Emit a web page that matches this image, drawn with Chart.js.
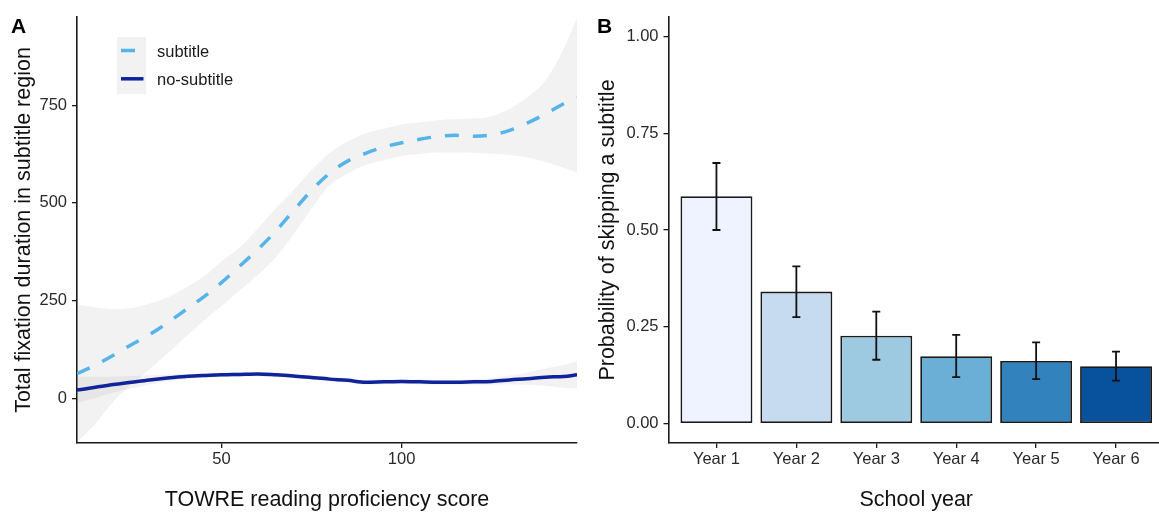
<!DOCTYPE html>
<html>
<head>
<meta charset="utf-8">
<script src="https://cdn.jsdelivr.net/npm/chart.js@4.4.1/dist/chart.umd.min.js"></script>
<style>
    html, body { margin: 0; padding: 0; background: #fff; overflow: hidden; }
    body { width: 1159px; height: 513px; position: relative; font-family: 'Liberation Sans', Arial, Helvetica, sans-serif; }
    #caixa-a { position: absolute; left: 0; top: 0; width: 590px; height: 513px; }
    #caixa-b { position: absolute; left: 590px; top: 0; width: 574px; height: 513px; }
    .painel { position: absolute; top: 15px; font-size: 21px; line-height: 21px; font-weight: bold; color: #000; }
</style>
</head>
<body>
<div id="caixa-a"><canvas id="grafico-a" width="590" height="513"></canvas></div>
<div id="caixa-b"><canvas id="grafico-b" width="574" height="513"></canvas></div>
<div class="painel" style="left:11px">A</div>
<div class="painel" style="left:597px">B</div>
<script>
const towreScore = [9.9, 15, 20, 25, 30, 35, 40, 45, 50, 55, 60, 65, 70, 75, 80, 85, 90, 95, 100, 105, 110, 115, 120, 125, 130, 135, 140, 145, 148.7]
const subtitleMean = [63, 85, 110, 137, 163, 193, 226, 259, 296, 338, 380, 427, 480, 532, 576, 607, 627, 643, 654, 663, 670, 673, 671, 674, 686, 705, 728, 754, 769]
const subtitleUpper = [240, 233, 228, 231, 242, 258, 283, 311, 350, 385, 434, 485, 533, 584, 627, 657, 678, 690, 701, 706, 712, 715, 716, 722, 741, 771, 815, 895, 975]
const subtitleLower = [-112, -65, -8, 35, 74, 115, 157, 198, 236, 275, 315, 360, 420, 485, 545, 575, 597, 609, 620, 625, 629, 629, 628, 626, 623, 617, 605, 590, 578]
const noSubtitleMean = [21, 28, 35, 41, 47, 52, 56, 58, 60, 61, 62, 60, 57, 53, 49, 46, 41, 42, 43, 42, 41, 41, 42, 43, 47, 50, 54, 56, 60]
const noSubtitleUpper = [55, 55, 56, 57, 59, 61, 63, 64, 66, 67, 68, 66, 63, 59, 55, 52, 47, 48, 49, 48, 47, 47, 49, 51, 58, 66, 76, 85, 95]
const noSubtitleLower = [-12, 1, 14, 25, 35, 43, 49, 52, 54, 55, 56, 54, 51, 47, 43, 40, 35, 36, 37, 36, 35, 35, 35, 35, 36, 34, 32, 27, 25]
const ticksXA = [50, 100]
const ticksYA = [0, 250, 500, 750]

// PAINEL B - probabilidade de pular a legenda
const schoolYears = ['Year 1', 'Year 2', 'Year 3', 'Year 4', 'Year 5', 'Year 6']
const skipProb = [0.587, 0.341, 0.227, 0.174, 0.162, 0.148]
const skipLow = [0.500, 0.275, 0.165, 0.120, 0.115, 0.111]
const skipHigh = [0.673, 0.406, 0.289, 0.229, 0.210, 0.186]
const ticksYB = [0, 0.25, 0.5, 0.75, 1]

const fonte = "'Liberation Sans', Arial, Helvetica, sans-serif"
const corSub = '#56B4E9'
const corNoSub = '#0F239B'
const corFaixa = 'rgba(150,150,150,0.12)'
const corEixo = '#1a1a1a'
const barColors = ['#EFF3FF', '#C6DBEF', '#9ECAE1', '#6BAED6', '#3182BD', '#08519C']
const capWidth = 0.1 // largura da barra de erro em unidades do eixo x

Chart.defaults.font.family = fonte
Chart.defaults.color = '#2a2a2a'
Chart.defaults.animation = false

function pontos(ys) {
    return towreScore.map((x, i) => ({ x: x, y: ys[i] }))
}

function linha(label, ys, cor, dash) {
    return {
        label: label,
        data: pontos(ys),
        borderColor: cor,
        borderWidth: 3.5,
        borderDash: dash,
        pointRadius: 0,
        fill: false,
        cubicInterpolationMode: 'monotone'
    }
}

function faixa(label, ys, preenche) {
    return {
        label: label,
        data: pontos(ys),
        borderColor: 'transparent',
        borderWidth: 0,
        pointRadius: 0,
        fill: preenche ? '-1' : false,
        backgroundColor: corFaixa,
        cubicInterpolationMode: 'monotone'
    }
}

function eixoGrid() {
    return { drawOnChartArea: false, drawTicks: true, tickLength: 5, color: corEixo, lineWidth: 1.3, offset: false }
}

// legenda desenhada dentro da area do grafico (estilo ggplot)
const legendaA = {
    id: 'legendaA',
    afterDatasetsDraw(chart) {
        const ctx = chart.ctx
        const x0 = chart.chartArea.left + 40
        const y0 = chart.chartArea.top + 20
        ctx.save()
        ctx.fillStyle = corFaixa
        ctx.fillRect(x0, y0, 29, 57)
        chart.data.datasets.slice(0, 2).forEach(function(ds, i) {
            const y = y0 + 13.5 + i * 28.3
            ctx.strokeStyle = ds.borderColor
            ctx.lineWidth = ds.borderWidth
            ctx.setLineDash(ds.borderDash || [])
            ctx.beginPath()
            ctx.moveTo(x0 + 4, y)
            ctx.lineTo(x0 + 26.5, y)
            ctx.stroke()
            ctx.setLineDash([])
            ctx.fillStyle = '#1a1a1a'
            ctx.font = '16.5px ' + fonte
            ctx.textBaseline = 'middle'
            ctx.fillText(ds.label, x0 + 40, y + 1.5)
        })
        ctx.restore()
    }
}

// GRAFICO A
var graficoA = new Chart(document.getElementById('grafico-a').getContext('2d'), {
    type: 'line',
    data: {
        datasets: [
            linha('subtitle', subtitleMean, corSub, [14, 14]),
            linha('no-subtitle', noSubtitleMean, corNoSub, []),
            faixa('subtitle-sup', subtitleUpper, false),
            faixa('subtitle-inf', subtitleLower, true),
            faixa('no-subtitle-sup', noSubtitleUpper, false),
            faixa('no-subtitle-inf', noSubtitleLower, true)
        ]
    },
    options: {
        responsive: false,
        layout: { padding: { top: 17, right: 13, left: 0, bottom: 0 } },
        scales: {
            x: {
                type: 'linear',
                min: 9.9,
                max: 148.7,
                afterBuildTicks: function(s) { s.ticks = ticksXA.map(v => ({ value: v })) },
                afterFit: function(s) { s.height = 70 },
                grid: eixoGrid(),
                border: { display: true, color: corEixo, width: 1.6 },
                ticks: { font: { size: 16.5 }, padding: 2, maxRotation: 0 },
                title: { display: true, text: 'TOWRE reading proficiency score', color: '#111', font: { size: 21.5 }, padding: { top: 0, bottom: 0 } }
            },
            y: {
                type: 'linear',
                min: -114.5,
                max: 976,
                afterBuildTicks: function(s) { s.ticks = ticksYA.map(v => ({ value: v })) },
                afterFit: function(s) { s.width = 77 },
                grid: eixoGrid(),
                border: { display: true, color: corEixo, width: 1.6 },
                ticks: { font: { size: 16.5 }, padding: 5 },
                title: { display: true, text: 'Total fixation duration in subtitle region', color: '#111', font: { size: 21.5 }, padding: { top: 11, bottom: 0 } }
            }
        },
        plugins: {
            legend: { display: false },
            tooltip: { enabled: false }
        }
    },
    plugins: [legendaA]
})

// barras de erro do grafico B
const barrasErro = {
    id: 'barrasErro',
    afterDatasetsDraw(chart) {
        const ctx = chart.ctx
        const xs = chart.scales.x
        const ys = chart.scales.y
        ctx.save()
        ctx.strokeStyle = '#111'
        ctx.lineWidth = 1.8
        skipLow.forEach(function(lo, i) {
            const x = xs.getPixelForValue(i + 1)
            const meia = xs.getPixelForValue(i + 1 + capWidth / 2) - x
            const y1 = ys.getPixelForValue(lo)
            const y2 = ys.getPixelForValue(skipHigh[i])
            ctx.beginPath()
            ctx.moveTo(x, y1); ctx.lineTo(x, y2)
            ctx.moveTo(x - meia, y1); ctx.lineTo(x + meia, y1)
            ctx.moveTo(x - meia, y2); ctx.lineTo(x + meia, y2)
            ctx.stroke()
        })
        ctx.restore()
    }
}

// GRAFICO B
var graficoB = new Chart(document.getElementById('grafico-b').getContext('2d'), {
    type: 'bar',
    data: {
        datasets: [{
            label: 'Probability of skipping a subtitle',
            data: schoolYears.map((c, i) => ({ x: i + 1, y: skipProb[i] })),
            backgroundColor: barColors,
            borderColor: '#1a1a1a',
            borderWidth: 1.8,
            borderSkipped: false,
            categoryPercentage: 1,
            barPercentage: 0.9
        }]
    },
    options: {
        responsive: false,
        layout: { padding: { top: 17, right: 0, left: 0, bottom: 0 } },
        scales: {
            x: {
                type: 'linear',
                offset: false,
                min: 0.4,
                max: 6.6,
                afterBuildTicks: function(s) { s.ticks = schoolYears.map((c, i) => ({ value: i + 1 })) },
                afterFit: function(s) { s.height = 70 },
                grid: eixoGrid(),
                border: { display: true, color: corEixo, width: 1.6 },
                ticks: {
                    font: { size: 16.5 },
                    padding: 2,
                    maxRotation: 0,
                    callback: function(v) { return schoolYears[Math.round(v) - 1] }
                },
                title: { display: true, text: 'School year', color: '#111', font: { size: 21.5 }, padding: { top: 0, bottom: 0 } }
            },
            y: {
                type: 'linear',
                min: -0.05,
                max: 1.05,
                afterBuildTicks: function(s) { s.ticks = ticksYB.map(v => ({ value: v })) },
                afterFit: function(s) { s.width = 78.5 },
                grid: eixoGrid(),
                border: { display: true, color: corEixo, width: 1.6 },
                ticks: {
                    font: { size: 16.5 },
                    padding: 5,
                    callback: function(v) { return Number(v).toFixed(2) }
                },
                title: { display: true, text: 'Probability of skipping a subtitle', color: '#111', font: { size: 21.5 }, padding: { top: 5.5, bottom: 0 } }
            }
        },
        plugins: {
            legend: { display: false },
            tooltip: { enabled: false }
        }
    },
    plugins: [barrasErro]
})
</script>
</body>
</html>
